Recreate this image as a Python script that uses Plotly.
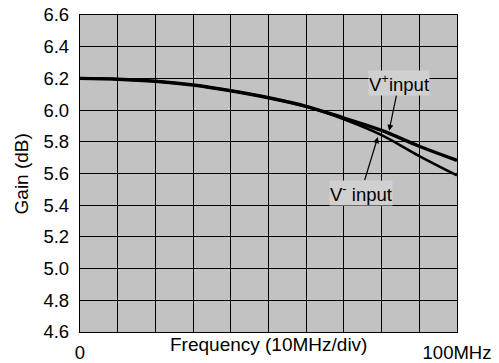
import plotly.graph_objects as go

freq_mhz = [0, 10, 20, 30, 40, 50, 60, 70, 80, 90, 100]
gain_vplus = [6.20, 6.195, 6.182, 6.158, 6.122, 6.078, 6.024, 5.950, 5.872, 5.772, 5.683]
gain_vminus = [6.20, 6.195, 6.182, 6.158, 6.122, 6.078, 6.022, 5.942, 5.842, 5.710, 5.588]

x_tickvals = [0, 100]
x_ticktext = ["0", "100MHz"]
y_tickvals = [4.6, 4.8, 5.0, 5.2, 5.4, 5.6, 5.8, 6.0, 6.2, 6.4, 6.6]
y_ticktext = ["4.6", "4.8", "5.0", "5.2", "5.4", "5.6", "5.8", "6.0", "6.2", "6.4", "6.6"]

FONT = "Liberation Sans, Arial, sans-serif"

fig = go.Figure()
for ys, w in ((gain_vplus, 3.4), (gain_vminus, 2.6)):
    fig.add_trace(go.Scatter(x=freq_mhz, y=ys, mode="lines",
                             line=dict(color="black", width=w, shape="spline", smoothing=1.0),
                             showlegend=False, hoverinfo="skip"))

fig.update_layout(
    width=499, height=363,
    margin=dict(l=80, r=42, t=15, b=31, autoexpand=False),
    paper_bgcolor="white",
    plot_bgcolor="#c2c2c2",
    font=dict(family=FONT, size=18, color="black"),
    showlegend=False,
)
fig.update_xaxes(range=[0, 100], tickmode="array", tickvals=x_tickvals, ticktext=x_ticktext,
                 showgrid=True, gridcolor="black", gridwidth=1.3,
                 minor=dict(tickmode="linear", tick0=0, dtick=10, showgrid=True,
                            gridcolor="black", gridwidth=1.3, ticks=""),
                 zeroline=False, showline=True, linecolor="black", linewidth=1.3,
                 mirror=True, ticks="", ticklabelstandoff=4, automargin=False,
                 tickfont=dict(size=18.5))
fig.update_yaxes(range=[4.6, 6.6], tickvals=y_tickvals, ticktext=y_ticktext,
                 showgrid=True, gridcolor="black", gridwidth=1.3,
                 zeroline=False, showline=True, linecolor="black", linewidth=1.3,
                 mirror=True, ticks="", ticklabelstandoff=6, automargin=False,
                 tickfont=dict(size=18.5))

fig.add_annotation(text="Frequency (10MHz/div)", x=50, xref="x", y=-0.038, yref="paper",
                   xanchor="center", yanchor="middle", showarrow=False, font=dict(size=19))
fig.add_annotation(text="Gain (dB)", x=-0.154, xref="paper", y=0.5, yref="paper",
                   xanchor="center", yanchor="middle",
                   textangle=-90, showarrow=False, font=dict(size=19))

fig.add_annotation(text="V<sup>+</sup>input", x=82, y=5.87, xref="x", yref="y",
                   ax=84.6, ay=6.17, axref="x", ayref="y",
                   showarrow=True, arrowhead=2, arrowsize=1, arrowwidth=1.2,
                   arrowcolor="black", bgcolor="#d0d0d0", borderpad=0,
                   font=dict(size=18.5))
fig.add_annotation(text="V<sup>-</sup> input", x=79, y=5.83, xref="x", yref="y",
                   ax=74.5, ay=5.48, axref="x", ayref="y",
                   showarrow=True, arrowhead=2, arrowsize=1, arrowwidth=1.2,
                   arrowcolor="black", bgcolor="#d0d0d0", borderpad=0,
                   font=dict(size=18.5))

fig.write_html("out.html", config={"displayModeBar": False},
               post_script="document.body.style.margin='0';document.body.style.padding='0';")
